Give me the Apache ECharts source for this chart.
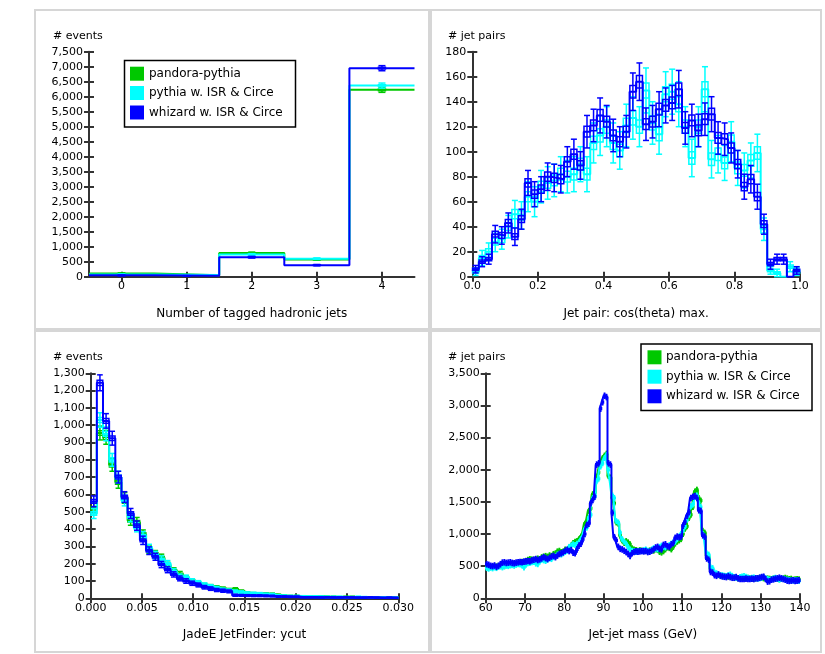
<!DOCTYPE html>
<html><head><meta charset="utf-8">
<script src="https://cdn.jsdelivr.net/npm/echarts@6/dist/echarts.min.js"></script>
<style>html,body{margin:0;padding:0;background:#fff}#c{width:825px;height:654px}</style>
</head><body><div id="c"></div>
<script>
// ---------- common ----------
const seriesNames = ['pandora-pythia', 'pythia w. ISR & Circe', 'whizard w. ISR & Circe'];
const seriesColors = ['#00c800', '#00ffff', '#0000ff'];

// ---------- panel 1: number of tagged hadronic jets ----------
const nJetsCategories = [0, 1, 2, 3, 4];
const nJetsGreen = [110, 50, 790, 575, 6230];
const nJetsCyan = [75, 60, 740, 600, 6370];
const nJetsBlue = [45, 30, 650, 385, 6950];
const nJetsErrGreen = [12, 8, 30, 25, 85];
const nJetsErrCyan = [10, 8, 30, 25, 85];
const nJetsErrBlue = [8, 6, 28, 22, 85];
const nJetsYTicks = [0, 500, 1000, 1500, 2000, 2500, 3000, 3500, 4000, 4500, 5000, 5500, 6000, 6500, 7000, 7500];

// ---------- panel 2: jet pair cos(theta) max, 50 bins of 0.02 ----------
const cosBinStart = 0.0, cosBinWidth = 0.02;
const cosCyan = [4, 15, 20, 28, 30, 40, 50, 49, 64, 60, 72, 75, 77, 82, 80, 82, 90, 82, 107, 113, 120, 107, 101, 121, 127, 120, 149, 123, 114, 146, 148, 138, 120, 95, 120, 150, 94, 98, 91, 108, 87, 85, 93, 99, 38, 5, 3, 0, 8, 4];
const cosBlue = [6, 12, 14, 34, 33, 43, 32, 46, 75, 66, 70, 80, 79, 78, 92, 98, 89, 116, 121, 129, 124, 113, 108, 116, 148, 156, 122, 124, 134, 137, 139, 150, 119, 125, 117, 126, 130, 111, 110, 103, 90, 72, 78, 64, 42, 10, 14, 14, 0, 5];
const cosErrCyan = [3, 6, 7, 8, 8, 9, 11, 11, 12, 12, 13, 13, 13, 14, 13, 14, 14, 14, 16, 16, 16, 16, 15, 17, 17, 16, 18, 17, 16, 18, 18, 18, 16, 15, 16, 18, 15, 15, 14, 16, 14, 14, 14, 15, 9, 3, 3, 0, 4, 3];
const cosErrBlue = [3, 4, 4, 7, 7, 8, 7, 8, 10, 10, 10, 11, 11, 11, 12, 12, 11, 13, 13, 14, 13, 13, 12, 13, 15, 15, 13, 13, 14, 14, 14, 15, 13, 13, 13, 13, 14, 13, 13, 12, 11, 10, 11, 10, 8, 4, 4, 4, 0, 3];
const cosXTicks = [0, 0.2, 0.4, 0.6, 0.8, 1.0];

// ---------- panel 3: JadeE ycut, 50 bins of 0.0006 ----------
const ycutBinStart = 0.0, ycutBinWidth = 0.0006;
const ycutGreen = [520, 955, 930, 770, 670, 580, 450, 440, 370, 280, 255, 235, 190, 160, 140, 115, 100, 85, 75, 68, 62, 55, 48, 52, 40, 30, 26, 24, 25, 24, 18, 14, 12, 12, 10, 10, 9, 10, 8, 8, 7, 8, 8, 6, 6, 6, 5, 5, 4, 4];
const ycutCyan = [490, 1030, 950, 800, 700, 565, 470, 410, 360, 290, 250, 225, 200, 155, 125, 120, 100, 90, 78, 68, 58, 50, 45, 40, 35, 30, 28, 26, 24, 22, 15, 14, 12, 12, 11, 10, 10, 9, 8, 8, 8, 7, 7, 8, 7, 6, 6, 5, 5, 4];
const ycutBlue = [560, 1245, 1025, 925, 700, 585, 490, 420, 335, 275, 240, 195, 165, 138, 115, 100, 87, 77, 64, 56, 48, 44, 40, 18, 17, 16, 15, 15, 14, 13, 10, 10, 9, 9, 6, 6, 6, 5, 6, 5, 5, 6, 5, 4, 4, 5, 4, 3, 4, 3];
const ycutErrGreen = [30, 40, 40, 36, 34, 31, 28, 27, 25, 22, 21, 20, 18, 16, 15, 14, 13, 12, 11, 11, 10, 10, 9, 9, 8, 7, 7, 6, 7, 6, 6, 5, 5, 5, 4, 4, 4, 4, 4, 4, 3, 4, 4, 3, 3, 3, 3, 3, 3, 3];
const ycutErrCyan = [29, 42, 40, 37, 34, 31, 28, 26, 25, 22, 21, 20, 18, 16, 15, 14, 13, 12, 11, 11, 10, 9, 9, 8, 8, 7, 7, 7, 6, 6, 5, 5, 5, 5, 4, 4, 4, 4, 4, 4, 4, 3, 3, 4, 3, 3, 3, 3, 3, 3];
const ycutErrBlue = [31, 46, 42, 40, 34, 31, 29, 27, 24, 22, 20, 18, 17, 15, 14, 13, 12, 11, 10, 10, 9, 9, 8, 6, 5, 5, 5, 5, 5, 5, 4, 4, 4, 4, 3, 3, 3, 3, 3, 3, 3, 3, 3, 3, 3, 3, 3, 2, 3, 2];
const ycutXTicks = [0, 0.005, 0.010, 0.015, 0.020, 0.025, 0.030];

// ---------- panel 4: jet-jet mass, 160 bins of 0.5 GeV from 60 ----------
const massBinStart = 60, massBinWidth = 0.5;
const massGreen = [480,490,485,495,500,495,505,500,510,500, 520,515,530,525,540,535,545,550,570,560, 585,600,610,605,600,595,620,610,640,650, 660,650,670,660,690,700,730,740,720,730, 760,750,790,820,860,880,890,920,960,1000, 1160,1200,1360,1400,1620,1640,1860,1960,2120,2180, 2220,2250,1900,1880,1560,1480,1180,1160,980,900, 860,890,870,840,780,760,750,740,750,740, 735,740,730,745,750,740,760,750,720,710, 730,760,790,780,760,800,850,880,900,920, 1000,1080,1120,1250,1300,1420,1660,1690,1560,1520, 1050,1020,660,640,450,440,380,370,360,350, 345,340,340,335,340,330,320,325,310,320, 320,315,310,320,310,300,305,310,315,320, 320,310,300,310,305,300,310,305,300,295, 300,310,320,310,300,305,290,295,300,295];
const massCyan = [470,460,475,465,480,470,490,495,480,495, 505,500,510,515,505,520,530,525,510,480, 520,545,550,560,565,540,530,570,600,590, 580,600,620,610,640,650,680,690,680,700, 720,740,800,820,840,830,850,870,920,960, 1080,1100,1250,1300,1560,1580,1820,1860,2050,2100, 2180,2230,2000,1850,1600,1560,1200,1180,1020,920, 880,850,800,760,740,730,720,730,740,735, 750,760,740,730,760,780,770,760,800,820, 800,790,810,830,850,870,880,920,960,1000, 1060,1120,1220,1300,1430,1460,1580,1600,1480,1420, 1000,940,700,680,480,470,400,390,370,360, 360,350,345,360,370,350,330,320,315,330, 340,345,335,320,310,320,325,310,305,310, 320,330,310,300,290,295,310,320,300,290, 300,305,295,290,285,280,275,280,285,270];
const massBlue = [530,520,505,500,510,490,505,530,555,560, 550,555,560,550,545,555,560,565,560,570, 575,580,575,590,600,610,595,605,620,640, 625,610,630,650,660,640,665,690,700,715, 740,755,735,750,710,700,760,820,850,920, 1000,1140,1160,1480,1530,1580,2080,2100,2950,3050, 3150,3130,2100,2080,1330,950,900,800,770,760, 740,720,690,660,700,720,730,725,730,735, 730,735,720,725,740,760,790,800,770,760, 830,840,810,800,840,860,940,960,950,960, 1130,1190,1280,1340,1560,1580,1590,1560,1370,1360, 980,960,620,600,410,400,360,350,370,350, 340,335,330,345,330,320,320,330,310,300, 300,300,305,300,300,305,300,310,310,320, 330,335,300,260,265,290,295,305,310,320, 310,300,290,275,270,275,280,270,275,280];
const massTypicalErr = [35, 35, 40];
const massXTicks = [60, 70, 80, 90, 100, 110, 120, 130, 140];

// ---------- helpers ----------
const FONT = 'DejaVu Sans';
const AX = '#333';
function commas(v) { return String(Math.round(v)).replace(/\B(?=(\d{3})+(?!\d))/g, ','); }

function stepData(vals, x0, w) {
  const d = vals.map((v, i) => [x0 + i * w, v]);
  d.push([x0 + vals.length * w, vals[vals.length - 1]]);
  return d;
}
function errData(vals, errs, x0, w) {
  return vals.map((v, i) => [x0 + (i + 0.5) * w, v, errs[i]]);
}
function errRender(color, binW) {
  return function (params, api) {
    const x = api.value(0), v = api.value(1), e = api.value(2);
    if (!(v > 0) || !(e > 0)) return null;
    const c = api.coord([x, v]);
    const top = api.coord([x, v + e])[1];
    const bot = api.coord([x, Math.max(v - e, 0)])[1];
    const bwPx = api.size([binW, 0])[0];
    const w = Math.min(7, bwPx * 0.92);
    const b = e / 3;
    const bt = api.coord([x, v + b])[1], bb = api.coord([x, Math.max(v - b, 0)])[1];
    const st = { stroke: color, lineWidth: 1.5, fill: 'none' };
    return {
      type: 'group', children: [
        { type: 'line', shape: { x1: c[0], y1: top, x2: c[0], y2: bot }, style: st },
        { type: 'line', shape: { x1: c[0] - w / 2, y1: top, x2: c[0] + w / 2, y2: top }, style: st },
        { type: 'line', shape: { x1: c[0] - w / 2, y1: bot, x2: c[0] + w / 2, y2: bot }, style: st },
        { type: 'rect', shape: { x: c[0] - w / 2, y: bt, width: w, height: Math.max(bb - bt, 0.5) }, style: st }
      ]
    };
  };
}

const grids = [
  { left: 89, top: 51.7, width: 325.5, height: 225 },
  { left: 472.3, top: 51.7, width: 327.7, height: 225 },
  { left: 90.7, top: 373.3, width: 307.6, height: 225 },
  { left: 485.7, top: 373.3, width: 314.3, height: 225 }
];

const xCfg = [
  { min: -0.5, max: 4.5, custom: nJetsCategories, fmt: v => String(v) },
  { min: cosXTicks[0], max: cosXTicks[cosXTicks.length - 1], interval: 0.2, fmt: v => v.toFixed(1) },
  { min: ycutXTicks[0], max: ycutXTicks[ycutXTicks.length - 1], interval: 0.005, fmt: v => v.toFixed(3) },
  { min: massXTicks[0], max: massXTicks[massXTicks.length - 1], interval: 10, fmt: v => String(v) }
];
const yCfg = [
  { min: 0, max: nJetsYTicks[nJetsYTicks.length - 1], interval: 500 },
  { min: 0, max: 180, interval: 20 },
  { min: 0, max: 1300, interval: 100 },
  { min: 0, max: 3500, interval: 500 }
];
const xNames = ['Number of tagged hadronic jets', 'Jet pair: cos(theta) max.', 'JadeE JetFinder: ycut', 'Jet-jet mass (GeV)'];

const xAxes = [], yAxes = [];
xCfg.forEach((c, k) => {
  const base = {
    gridIndex: k, type: 'value', min: c.min, max: c.max, position: 'bottom', splitLine: { show: false }
  };
  if (c.interval) base.interval = c.interval;
  const main = Object.assign({}, base, {
    name: xNames[k], nameLocation: 'middle', nameGap: 31,
    nameTextStyle: { fontFamily: FONT, fontSize: 12, color: '#000' },
    axisLine: { show: true, onZero: false, lineStyle: { color: AX, width: 2 } },
    axisTick: { show: true, length: 5, lineStyle: { color: AX, width: 2 } },
    axisLabel: { fontFamily: FONT, fontSize: 11, color: '#000', margin: 4, formatter: c.fmt, hideOverlap: false }
  });
  const inner = Object.assign({}, base, {
    axisLine: { show: false, onZero: false },
    axisTick: { show: true, inside: true, length: 5, lineStyle: { color: AX, width: 2 } },
    axisLabel: { show: false }
  });
  if (c.custom) {
    main.axisTick.customValues = c.custom; main.axisLabel.customValues = c.custom;
    inner.axisTick.customValues = c.custom; inner.axisLabel.customValues = c.custom;
  }
  xAxes.push(main, inner);
});
yCfg.forEach((c, k) => {
  const base = { gridIndex: k, type: 'value', min: c.min, max: c.max, interval: c.interval, position: 'left', splitLine: { show: false } };
  yAxes.push(Object.assign({}, base, {
    axisLine: { show: true, onZero: false, lineStyle: { color: AX, width: 2 } },
    axisTick: { show: true, length: 5, lineStyle: { color: AX, width: 2 } },
    axisLabel: { fontFamily: FONT, fontSize: 11, color: '#000', margin: 6, formatter: commas, hideOverlap: false }
  }));
  yAxes.push(Object.assign({}, base, {
    axisLine: { show: false, onZero: false },
    axisTick: { show: true, inside: true, length: 5, lineStyle: { color: AX, width: 2 } },
    axisLabel: { show: false }
  }));
});

const series = [];
function addHist(k, colorIdx, vals, errs, x0, w) {
  const color = seriesColors[colorIdx];
  series.push({
    type: 'line', name: seriesNames[colorIdx], xAxisIndex: 2 * k, yAxisIndex: 2 * k,
    data: stepData(vals, x0, w), step: 'end', showSymbol: false, symbol: 'none',
    lineStyle: { color: color, width: 2 }, itemStyle: { color: color }, silent: true, clip: true, z: 2 + colorIdx
  });
  series.push({
    type: 'custom', name: seriesNames[colorIdx], xAxisIndex: 2 * k, yAxisIndex: 2 * k,
    data: errData(vals, errs, x0, w), encode: { x: 0, y: 1 },
    renderItem: errRender(color, w), silent: true, z: 2 + colorIdx
  });
}
function constErr(vals, e) { return vals.map(() => e); }

addHist(0, 0, nJetsGreen, nJetsErrGreen, -0.5, 1);
addHist(0, 1, nJetsCyan, nJetsErrCyan, -0.5, 1);
addHist(0, 2, nJetsBlue, nJetsErrBlue, -0.5, 1);

addHist(1, 1, cosCyan, cosErrCyan, cosBinStart, cosBinWidth);
addHist(1, 2, cosBlue, cosErrBlue, cosBinStart, cosBinWidth);

addHist(2, 0, ycutGreen, ycutErrGreen, ycutBinStart, ycutBinWidth);
addHist(2, 1, ycutCyan, ycutErrCyan, ycutBinStart, ycutBinWidth);
addHist(2, 2, ycutBlue, ycutErrBlue, ycutBinStart, ycutBinWidth);

addHist(3, 0, massGreen, constErr(massGreen, massTypicalErr[0]), massBinStart, massBinWidth);
addHist(3, 1, massCyan, constErr(massCyan, massTypicalErr[1]), massBinStart, massBinWidth);
addHist(3, 2, massBlue, constErr(massBlue, massTypicalErr[2]), massBinStart, massBinWidth);

// ---------- graphics: panel frames, axis titles, legends ----------
const graphic = [];
[[35, 10, 394, 319], [431, 10, 390, 319], [35, 331, 394, 321], [431, 331, 390, 321]].forEach(r => {
  graphic.push({ type: 'rect', shape: { x: r[0], y: r[1], width: r[2], height: r[3] },
    style: { fill: 'none', stroke: '#d6d6d6', lineWidth: 2 }, z: 0, silent: true });
});
const yTitles = [['# events', 53, 36], ['# jet pairs', 448, 36], ['# events', 53, 357], ['# jet pairs', 448, 357]];
yTitles.forEach(t => graphic.push({ type: 'text', x: t[1], y: t[2],
  style: { text: t[0], font: '11px "DejaVu Sans"', fill: '#000', textVerticalAlign: 'middle', verticalAlign: 'middle' }, z: 10 }));

function legend(x, y, w, h, sqX, rowY, txtX) {
  graphic.push({ type: 'rect', shape: { x: x, y: y, width: w, height: h },
    style: { fill: '#fff', stroke: '#000', lineWidth: 1.5 }, z: 20 });
  seriesNames.forEach((n, i) => {
    graphic.push({ type: 'rect', shape: { x: sqX, y: rowY[i] - 7, width: 14, height: 14 },
      style: { fill: seriesColors[i] }, z: 21 });
    graphic.push({ type: 'text', x: txtX, y: rowY[i],
      style: { text: n, font: '12px "DejaVu Sans"', fill: '#000', verticalAlign: 'middle', textVerticalAlign: 'middle' }, z: 21 });
  });
}
legend(124.5, 60.5, 171, 66.5, 130, [73.7, 93, 112.5], 149);
legend(641, 344, 171, 66.5, 647.5, [357.3, 376.7, 396.3], 666);

const chart = echarts.init(document.getElementById('c'), null, { renderer: 'canvas' });
chart.setOption({
  backgroundColor: '#fff',
  animation: false,
  grid: grids.map(g => Object.assign({ containLabel: false }, g)),
  xAxis: xAxes,
  yAxis: yAxes,
  series: series,
  graphic: graphic
});
</script></body></html>
